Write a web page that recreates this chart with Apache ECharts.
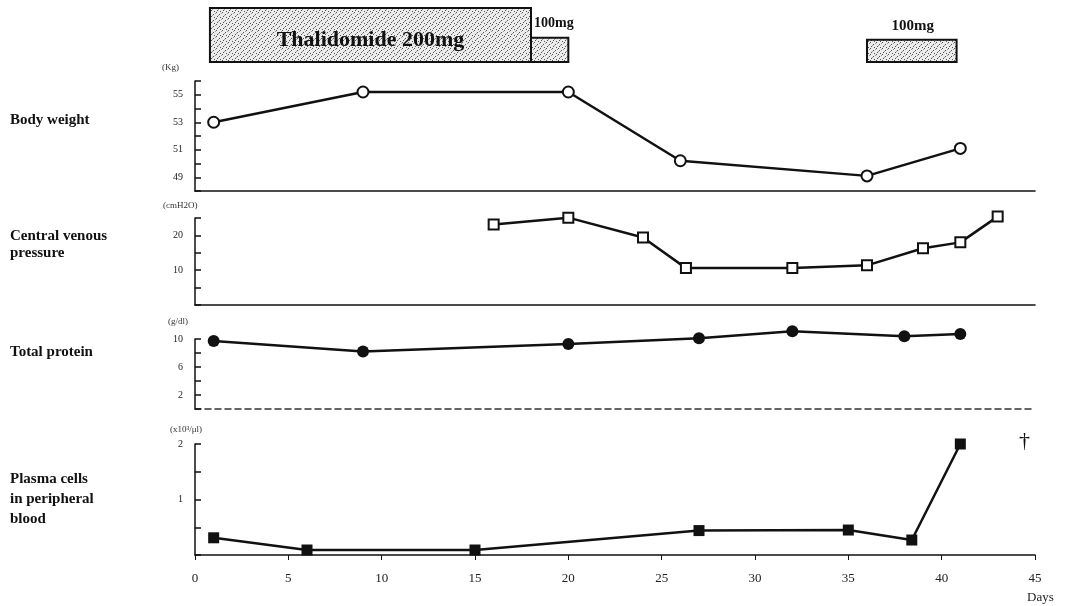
<!DOCTYPE html>
<html><head><meta charset="utf-8">
<script src="https://cdn.jsdelivr.net/npm/echarts@6/dist/echarts.min.js"></script>
<style>html,body{margin:0;padding:0;background:#fff}#c{width:1071px;height:606px}</style>
</head><body><div id="c"></div>
<script>
// ---- data ----
var xTicks = [0, 5, 10, 15, 20, 25, 30, 35, 40, 45];
var doseStart = [0.8, 18, 36];
var doseEnd = [18, 20, 40.8];
var doseLevel = [1, 0.45, 0.41];
var doseLabel = ['Thalidomide 200mg', '100mg', '100mg'];

var bwDays = [1, 9, 20, 26, 36, 41];
var bwVals = [53.0, 55.2, 55.2, 50.2, 49.1, 51.1];

var cvpDays = [16, 20, 24, 26.3, 32, 36, 39, 41, 43];
var cvpVals = [23.1, 25.1, 19.4, 10.6, 10.6, 11.4, 16.3, 18.0, 25.4];

var tpDays = [1, 9, 20, 27, 32, 38, 41];
var tpVals = [9.7, 8.2, 9.3, 10.1, 11.1, 10.4, 10.7];

var pcDays = [1, 6, 15, 27, 35, 38.4, 41];
var pcVals = [0.31, 0.09, 0.09, 0.44, 0.45, 0.27, 2.0];

function pairs(d, v) { return d.map(function (x, i) { return [x, v[i]]; }); }

// stipple pattern
var pc = document.createElement('canvas');
pc.width = 6; pc.height = 6;
var g = pc.getContext('2d');
g.fillStyle = '#ececec'; g.fillRect(0, 0, 6, 6);
g.fillStyle = '#555';
g.fillRect(0, 0, 1, 1); g.fillRect(3, 2, 1, 1); g.fillRect(1, 4, 1, 1); g.fillRect(4, 5, 1, 1);
g.fillStyle = '#999';
g.fillRect(5, 1, 1, 1); g.fillRect(2, 3, 1, 1);

var SERIF = '"Liberation Serif","DejaVu Serif",serif';
var LEFT = 195, RIGHT = 36;

function xAx(idx, opts) {
  var o = {
    type: 'value', gridIndex: idx, min: 0, max: 45, interval: 5,
    axisLine: { show: true, onZero: false, lineStyle: { color: '#111', width: 1.5 } },
    axisTick: { show: false }, axisLabel: { show: false }, splitLine: { show: false }
  };
  for (var k in opts) o[k] = opts[k];
  return o;
}
function yAx(idx, min, max, interval, shown) {
  return {
    type: 'value', gridIndex: idx, min: min, max: max, interval: interval,
    axisLine: { show: true, lineStyle: { color: '#111', width: 1.5 } },
    axisTick: { show: true, inside: true, length: 6, lineStyle: { color: '#111', width: 1.5 } },
    splitLine: { show: false },
    axisLabel: {
      margin: 12, fontFamily: SERIF, fontSize: 10, color: '#222',
      formatter: function (v) { return shown.indexOf(v) >= 0 ? String(v) : ''; }
    }
  };
}
function lineSeries(idx, data, symbol, size) {
  var empty = symbol.indexOf('empty') === 0;
  return {
    type: 'line', xAxisIndex: idx, yAxisIndex: idx, data: data, clip: false,
    symbol: symbol, symbolSize: size, showAllSymbol: true,
    lineStyle: { color: '#111', width: 2.5 },
    itemStyle: { color: '#111', borderColor: '#111', borderWidth: empty ? 2 : 0 },
    emphasis: { disabled: true }, animation: false
  };
}

var chart = echarts.init(document.getElementById('c'));
chart.setOption({
  animation: false,
  grid: [
    { left: LEFT, right: RIGHT, top: 8, height: 54 },
    { left: LEFT, right: RIGHT, top: 81, height: 110 },
    { left: LEFT, right: RIGHT, top: 218, height: 87 },
    { left: LEFT, right: RIGHT, top: 339, height: 70 },
    { left: LEFT, right: RIGHT, top: 444, height: 111 }
  ],
  xAxis: [
    xAx(0, { show: false }),
    xAx(1, {}),
    xAx(2, {}),
    xAx(3, { axisLine: { show: true, onZero: false, lineStyle: { color: '#333', width: 1.5, type: [6, 4] } } }),
    xAx(4, {
      axisTick: { show: true, length: 5, lineStyle: { color: '#111' } },
      axisLabel: { show: true, margin: 17, fontFamily: SERIF, fontSize: 13, color: '#222' },
      name: 'Days', nameLocation: 'end', nameGap: 0,
      nameTextStyle: { fontFamily: SERIF, fontSize: 13, color: '#222', verticalAlign: 'top', align: 'left', padding: [36, 0, 0, -8] }
    })
  ],
  yAxis: [
    { type: 'value', gridIndex: 0, min: 0, max: 1, show: false },
    yAx(1, 48, 56, 1, [49, 51, 53, 55]),
    yAx(2, 0, 25, 5, [10, 20]),
    yAx(3, 0, 10, 2, [2, 6, 10]),
    yAx(4, 0, 2, 0.5, [1, 2])
  ],
  series: [
    {
      type: 'custom', xAxisIndex: 0, yAxisIndex: 0, animation: false,
      data: doseStart.map(function (s, i) { return [s, doseEnd[i], doseLevel[i], i]; }),
      renderItem: function (params, api) {
        var p0 = api.coord([api.value(0), api.value(2)]);
        var p1 = api.coord([api.value(1), 0]);
        var i = api.value(3);
        var children = [{
          type: 'rect',
          shape: { x: p0[0], y: p0[1], width: p1[0] - p0[0], height: p1[1] - p0[1] },
          style: { fill: { image: pc, repeat: 'repeat' }, stroke: '#111', lineWidth: 2 }
        }];
        var lbl = doseLabel[i];
        if (i === 0) {
          children.push({ type: 'text', style: { text: lbl, x: (p0[0] + p1[0]) / 2, y: (p0[1] + p1[1]) / 2 + 5, align: 'center', verticalAlign: 'middle', font: 'bold 22px ' + SERIF, fill: '#111' } });
        } else if (i === 1) {
          children.push({ type: 'text', style: { text: lbl, x: p0[0] + 3, y: 23, align: 'left', verticalAlign: 'middle', font: 'bold 14px ' + SERIF, fill: '#111' } });
        } else {
          children.push({ type: 'text', style: { text: lbl, x: (p0[0] + p1[0]) / 2 + 1, y: 26, align: 'center', verticalAlign: 'middle', font: 'bold 15px ' + SERIF, fill: '#111' } });
        }
        return { type: 'group', children: children };
      }
    },
    lineSeries(1, pairs(bwDays, bwVals), 'emptyCircle', 11),
    lineSeries(2, pairs(cvpDays, cvpVals), 'emptyRect', 10),
    lineSeries(3, pairs(tpDays, tpVals), 'circle', 12),
    lineSeries(4, pairs(pcDays, pcVals), 'rect', 11)
  ],
  graphic: [
    { type: 'text', left: 10, top: 113, style: { text: 'Body weight', font: 'bold 15px ' + SERIF, fill: '#111' } },
    { type: 'text', left: 10, top: 228, style: { text: 'Central venous\npressure', font: 'bold 15px ' + SERIF, fill: '#111', lineHeight: 17 } },
    { type: 'text', left: 10, top: 345, style: { text: 'Total protein', font: 'bold 15px ' + SERIF, fill: '#111' } },
    { type: 'text', left: 10, top: 469, style: { text: 'Plasma cells\nin peripheral\nblood', font: 'bold 15px ' + SERIF, fill: '#111', lineHeight: 20 } },
    { type: 'text', left: 162, top: 63, style: { text: '(Kg)', font: '9px ' + SERIF, fill: '#333' } },
    { type: 'text', left: 163, top: 201, style: { text: '(cmH2O)', font: '9px ' + SERIF, fill: '#333' } },
    { type: 'text', left: 168, top: 317, style: { text: '(g/dl)', font: '9px ' + SERIF, fill: '#333' } },
    { type: 'text', left: 170, top: 425, style: { text: '(x10³/μl)', font: '9px ' + SERIF, fill: '#333' } },
    { type: 'text', left: 1019, top: 430, style: { text: '†', font: '22px ' + SERIF, fill: '#111' } }
  ]
});
</script></body></html>
